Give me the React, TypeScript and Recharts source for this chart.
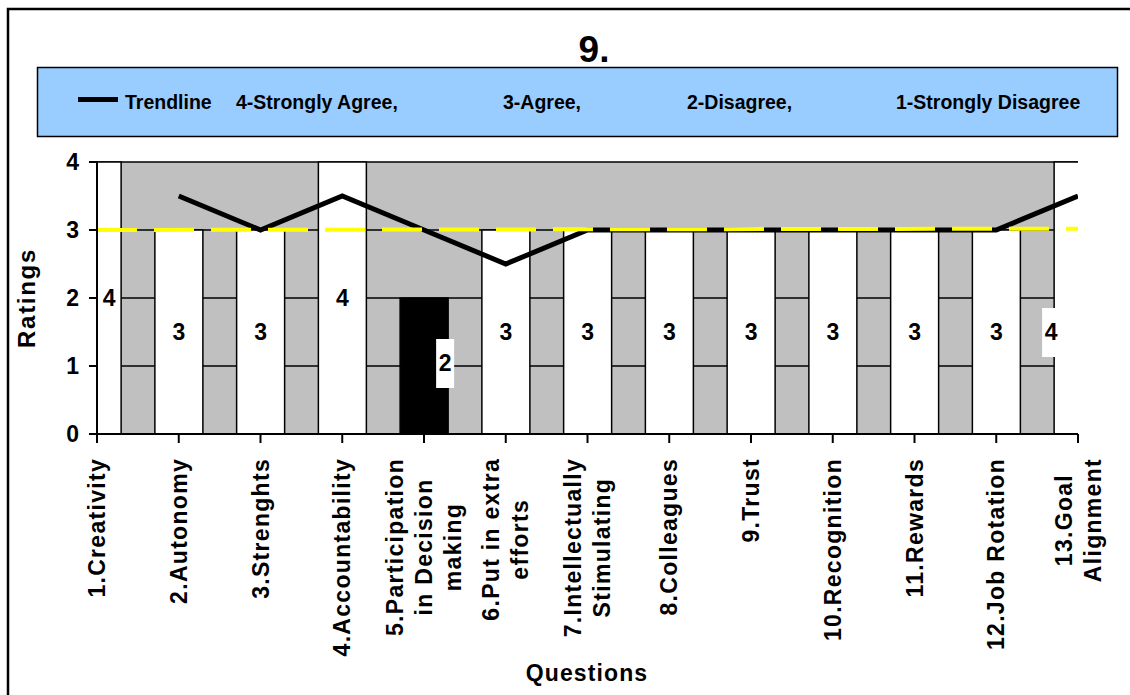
import React from 'react';
import {
  ComposedChart,
  Bar,
  Line,
  XAxis,
  YAxis,
  CartesianGrid,
  ReferenceLine,
  LabelList,
  Cell,
} from 'recharts';

// ---------- data ----------
const chartTitle = '9.';
const categories = [
  '1.Creativity',
  '2.Autonomy',
  '3.Strenghts',
  '4.Accountability',
  '5.Participation\nin Decision\nmaking',
  '6.Put in extra\nefforts',
  '7.Intellectually\nStimulating',
  '8.Colleagues',
  '9.Trust',
  '10.Recognition',
  '11.Rewards',
  '12.Job Rotation',
  '13.Goal\nAlignment',
];
const ratings = [4, 3, 3, 4, 2, 3, 3, 3, 3, 3, 3, 3, 4];
const trendline = [null, 3.5, 3, 3.5, 3, 2.5, 3, 3, 3, 3, 3, 3, 3.5];
const yTicks = [0, 1, 2, 3, 4];
const xTicks = categories.map((_, i) => i + 1);
const yellowLineStart = 3.0;
const yellowLineEnd = 3.02;
const legendTrendLabel = 'Trendline';
const legendScale = ['4-Strongly Agree,', '3-Agree,', '2-Disagree,', '1-Strongly Disagree'];
const xAxisTitle = 'Questions';
const yAxisTitle = 'Ratings';

const data = categories.map((name, i) => ({
  idx: i + 1,
  name,
  rating: ratings[i],
  trend: trendline[i],
}));

// ---------- styles ----------
const FONT = "'Liberation Sans', Arial, Helvetica, sans-serif";
const X_FONT_SIZE = 23;
const X_LS = 1.3;
const X_LINE = 29;

let measureCtx: CanvasRenderingContext2D | null = null;
function measureText(text: string, size: number, ls: number): number {
  if (!measureCtx) {
    const c = document.createElement('canvas');
    measureCtx = c.getContext('2d');
  }
  if (!measureCtx) return text.length * size * 0.55 + text.length * ls;
  measureCtx.font = `bold ${size}px ${FONT}`;
  return measureCtx.measureText(text).width + ls * text.length;
}

const XTick = (props: any) => {
  const { x, y, payload } = props;
  const label = categories[payload.value - 1];
  if (!label) return null;
  const lines = label.split('\n');
  const top = y + 13;
  const lens = lines.map((l) => measureText(l, X_FONT_SIZE, X_LS));
  const maxLen = Math.max(...lens);
  const n = lines.length;
  return (
    <g transform={`translate(${x},${top}) rotate(-90)`}>
      {lines.map((l, i) => (
        <text
          key={i}
          x={-maxLen / 2}
          y={(i - (n - 1) / 2) * X_LINE}
          textAnchor="middle"
          dominantBaseline="central"
          fontFamily={FONT}
          fontWeight="bold"
          fontSize={X_FONT_SIZE}
          letterSpacing={X_LS}
          fill="#000"
        >
          {l}
        </text>
      ))}
    </g>
  );
};

const YTick = (props: any) => {
  const { x, y, payload } = props;
  return (
    <text
      x={x}
      y={y}
      textAnchor="end"
      dominantBaseline="central"
      fontFamily={FONT}
      fontWeight="bold"
      fontSize={23}
      fill="#000"
    >
      {payload.value}
    </text>
  );
};

const BarLabel = (props: any) => {
  const { x, y, width, height, value, index } = props;
  let cx = Number(x) + Number(width) / 2;
  let cy = Number(y) + Number(height) / 2;
  let boxed = false;
  if (index === 0) cx += 12;
  if (index === 4) {
    cx += 21;
    cy -= 3;
    boxed = true;
  }
  if (index === 12) {
    cx -= 27;
    cy += 34;
    boxed = true;
  }
  return (
    <g>
      {boxed && <rect x={cx - 9} y={cy - 24} width={18} height={49} fill="#fff" />}
      <text
        x={cx}
        y={cy}
        textAnchor="middle"
        dominantBaseline="central"
        fontFamily={FONT}
        fontWeight="bold"
        fontSize={23}
        fill="#000"
      >
        {value}
      </text>
    </g>
  );
};

const legendPositions = [236, 503, 687, 896];

export default function App() {
  return (
    <div style={{ position: 'relative', width: 1130, height: 695, background: '#fff', overflow: 'hidden' }}>
      <style>{'html,body{margin:0;padding:0;overflow:hidden;background:#fff}'}</style>
      <svg
        width={1130}
        height={695}
        style={{ position: 'absolute', left: 0, top: 0 }}
      >
        <rect x={8} y={9} width={1140} height={700} fill="none" stroke="#000" strokeWidth={2.5} />
        <text
          x={594}
          y={62}
          textAnchor="middle"
          fontFamily={FONT}
          fontWeight="bold"
          fontSize={37}
          fill="#000"
        >
          {chartTitle}
        </text>
        <rect x={37.5} y={67.5} width={1080} height={69} fill="#99ccff" stroke="#000" strokeWidth={1.5} />
        <rect x={78} y={97} width={40} height={5} fill="#000" />
        <text x={125} y={109} fontFamily={FONT} fontWeight="bold" fontSize={19.5} fill="#000">
          {legendTrendLabel}
        </text>
        {legendScale.map((t, i) => (
          <text
            key={t}
            x={legendPositions[i]}
            y={109}
            fontFamily={FONT}
            fontWeight="bold"
            fontSize={19.5}
            fill="#000"
          >
            {t}
          </text>
        ))}
        <text
          x={587}
          y={681}
          textAnchor="middle"
          fontFamily={FONT}
          fontWeight="bold"
          fontSize={23}
          letterSpacing={1.1}
          fill="#000"
        >
          {xAxisTitle}
        </text>
        <text
          transform="translate(35,298) rotate(-90)"
          textAnchor="middle"
          fontFamily={FONT}
          fontWeight="bold"
          fontSize={24}
          letterSpacing={1.7}
          fill="#000"
        >
          {yAxisTitle}
        </text>
      </svg>
      <div style={{ position: 'absolute', left: 0, top: 0 }}>
        <ComposedChart
          width={1130}
          height={695}
          data={data}
          margin={{ top: 162, right: 52, bottom: 61, left: 37 }}
        >
          <CartesianGrid
            vertical={false}
            stroke="#000"
            strokeWidth={1.5}
            strokeOpacity={1}
            fill="#c0c0c0"
            fillOpacity={1}
          />
          <XAxis
            dataKey="idx"
            type="number"
            domain={[1, 13]}
            ticks={xTicks}
            interval={0}
            allowDataOverflow
            height={200}
            tickSize={9}
            tick={<XTick />}
            axisLine={{ stroke: '#000', strokeWidth: 2 }}
            tickLine={{ stroke: '#000', strokeWidth: 2 }}
          />
          <YAxis
            domain={[0, 4]}
            ticks={yTicks}
            interval={0}
            width={60}
            tickSize={8}
            tickMargin={10}
            tick={<YTick />}
            axisLine={{ stroke: '#000', strokeWidth: 2 }}
            tickLine={{ stroke: '#000', strokeWidth: 2 }}
          />
          <Bar
            dataKey="rating"
            barSize={48}
            fill="#fff"
            stroke="#000"
            strokeWidth={1.5}
            isAnimationActive={false}
          >
            {data.map((d, i) => (
              <Cell key={i} fill={d.rating <= 2 ? '#000' : '#fff'} />
            ))}
            <LabelList dataKey="rating" content={<BarLabel />} />
          </Bar>
          <Line
            dataKey="trend"
            stroke="#000"
            strokeWidth={5}
            dot={false}
            activeDot={false}
            isAnimationActive={false}
          />
          <ReferenceLine
            segment={[
              { x: 1, y: yellowLineStart },
              { x: 13, y: yellowLineEnd },
            ]}
            stroke="#ffff00"
            strokeWidth={4}
            strokeOpacity={1}
            strokeDasharray="40 17"
          />
        </ComposedChart>
      </div>
    </div>
  );
}
